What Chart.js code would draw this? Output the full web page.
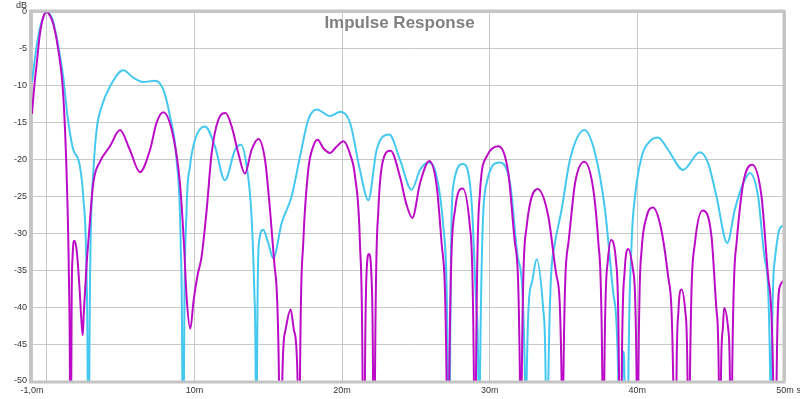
<!DOCTYPE html>
<html><head><meta charset="utf-8">
<script src="https://cdn.jsdelivr.net/npm/chart.js@4"></script>
<style>html,body{margin:0;padding:0;background:#fff;overflow:hidden}canvas{display:block}</style>
</head><body>
<canvas id="c" width="800" height="399"></canvas>
<script>
const chartTitle = 'Impulse Response';
const xTickValues = [-1, 0, 10, 20, 30, 40, 50];
const xTickLabels = ['-1,0m', '', '10m', '20m', '30m', '40m', '50m'];
const xUnit = 's';
const yUnit = 'dB';

const magentaMs = [-1,-0.85,-0.68,-0.46,-0.22,0,0.22,0.44,0.78,1.12,1.35,1.5,1.57,1.62,1.66,1.69,1.75,1.86,2.02,2.2,2.36,2.43,2.52,2.7,2.81,3.15,3.6,4.28,4.96,5.63,6.31,6.99,7.44,7.89,8.57,9.02,9.29,9.47,9.72,9.95,10.2,10.49,10.83,11.17,11.62,12.11,12.52,12.97,13.42,13.87,14.33,14.78,15.12,15.41,15.73,15.84,15.95,16.15,16.52,16.76,16.99,17.07,17.15,17.37,17.71,18.05,18.34,18.75,19.18,19.6,20.1,20.55,20.88,21.21,21.39,21.47,21.55,21.65,21.82,21.99,22.1,22.17,22.23,22.46,22.79,23.29,23.92,24.35,24.76,25.28,25.91,26.41,26.74,27.08,27.17,27.26,27.65,28.17,28.66,28.93,29.0,29.07,29.34,29.79,30.58,31.26,31.71,32.05,32.11,32.17,32.5,33.25,33.97,34.54,34.87,34.93,34.99,35.33,35.78,36.41,37.02,37.36,37.63,37.7,37.76,37.99,38.22,38.56,38.76,38.85,38.94,39.14,39.39,39.72,39.95,40.01,40.07,40.29,40.63,41.05,41.6,42.09,42.43,42.54,42.65,42.78,42.99,43.25,43.4,43.48,43.56,43.9,44.42,45.02,45.36,45.52,45.59,45.66,45.78,45.88,46.16,46.27,46.35,46.42,46.72,47.17,47.78,48.41,48.86,49.2,49.32,49.43,49.65,50];
const magentaDb = [-13.8,-10.2,-7.0,-2.9,-0.6,0,-0.5,-1.6,-5.1,-11.4,-22.3,-35.9,-50,-90,-50,-38.1,-33.1,-31.0,-32.2,-36.8,-42.2,-43.8,-40.4,-34.1,-31.3,-23.2,-20.3,-18.2,-16.0,-18.7,-21.7,-18.7,-15.0,-13.6,-16.9,-23.2,-31.3,-38.6,-42.9,-39.0,-35.8,-33.1,-26.8,-19.1,-14.6,-13.7,-15.5,-19.1,-21.9,-18.7,-17.2,-20.0,-26.8,-34.0,-50,-90,-50,-43.3,-40.3,-43.3,-50,-90,-50,-31.3,-21.4,-18.2,-17.3,-18.5,-19.1,-18.3,-17.5,-19.3,-22.3,-31.3,-50,-90,-50,-35.8,-32.8,-35.8,-50,-90,-50,-26.8,-20.0,-18.8,-22.3,-26.0,-27.9,-23.2,-20.2,-23.6,-31.3,-50,-90,-50,-26.8,-23.9,-29.1,-50,-90,-50,-24.5,-19.6,-18.2,-21.8,-31.3,-50,-90,-50,-29.1,-24.0,-27.7,-35.9,-50,-90,-50,-31.3,-23.2,-20.3,-24.1,-31.3,-50,-90,-50,-33.9,-30.9,-33.9,-50,-90,-50,-35.1,-32.1,-35.1,-50,-90,-50,-32.2,-27.7,-26.5,-29.3,-35.9,-50,-90,-50,-40.6,-37.6,-40.6,-50,-90,-50,-31.3,-26.9,-30.4,-40.4,-50,-90,-50,-43.1,-40.1,-43.1,-50,-90,-50,-31.3,-23.2,-20.7,-25.0,-35.9,-50,-90,-50,-37.2,-36.4];

const cyanMs = [-1,-0.7,-0.4,0,0.4,0.75,1.12,1.35,1.57,1.8,2.2,2.47,2.7,2.77,2.82,2.88,2.97,3.15,3.38,3.72,4.28,5.18,5.86,6.54,7.33,7.89,8.34,8.79,9.07,9.18,9.23,9.29,9.47,9.7,10.04,10.71,11.39,12.07,12.75,13.15,13.54,13.87,14.06,14.15,14.2,14.24,14.37,14.66,15.0,15.34,15.91,16.58,17.15,17.71,18.28,19.18,19.9,20.54,21.21,21.78,22.34,23.2,23.92,24.71,25.28,25.84,26.41,26.86,27.17,27.24,27.31,27.53,28.21,28.78,29.11,29.23,29.28,29.34,29.79,30.65,31.38,31.94,32.39,32.45,32.5,32.84,33.18,33.63,33.79,33.88,33.97,34.42,34.87,35.44,36.41,37.13,37.81,38.37,38.71,38.85,38.97,39.05,39.13,39.26,39.39,39.61,39.84,40.29,40.85,41.4,42.09,43.1,44.23,44.8,45.36,46.09,46.6,47.17,47.62,48.18,48.64,49.0,49.05,49.09,49.31,49.65,50];
const cyanDb = [-9.5,-4.8,-1.7,0,-1.1,-4.3,-8.9,-13.2,-16.4,-18.7,-20.5,-25.0,-35.9,-50,-90,-50,-31.3,-21.8,-15.9,-12.8,-10.1,-7.9,-8.9,-9.5,-9.3,-10.5,-14.1,-20.0,-31.3,-50,-90,-50,-26.8,-20.9,-17.3,-15.5,-18.2,-22.8,-18.7,-18.0,-20.9,-27.7,-38.1,-50,-90,-50,-31.3,-29.5,-31.3,-33.4,-28.6,-25.0,-19.6,-14.6,-13.2,-14.1,-13.5,-15.0,-21.4,-25.5,-18.7,-16.6,-20.0,-24.1,-21.4,-20.4,-22.3,-29.1,-50,-90,-50,-23.6,-20.6,-25.9,-40.4,-50,-90,-50,-23.2,-20.4,-23.2,-33.6,-50,-90,-50,-36.8,-33.5,-40.4,-50,-90,-50,-31.3,-26.8,-20.0,-16.0,-19.1,-26.8,-38.1,-50,-90,-50,-46.0,-50,-90,-50,-31.3,-25.0,-19.6,-17.5,-17.0,-18.7,-21.4,-19.0,-20.5,-25.0,-31.3,-26.8,-23.2,-21.8,-25.0,-33.6,-50,-90,-50,-33.6,-29.3,-28.9];

function toPoints(xs, ys) { return xs.map((x, i) => ({ x: x, y: ys[i] })); }

const FONT = '"Liberation Sans", Arial, sans-serif';

const decor = {
  id: 'decor',
  afterDatasetsDraw(chart) {
    const ctx = chart.ctx, a = chart.chartArea;
    ctx.save();
    ctx.strokeStyle = '#c4c4c4';
    ctx.lineWidth = 3;
    ctx.strokeRect(a.left - 1.5, a.top - 1, a.right - a.left + 0.5, a.bottom - a.top + 2);
    ctx.fillStyle = '#808080';
    ctx.font = 'bold 17px ' + FONT;
    ctx.textAlign = 'center';
    ctx.textBaseline = 'alphabetic';
    ctx.fillText(chartTitle, 399.5, 28.3);
    ctx.fillStyle = '#333';
    ctx.font = '9px ' + FONT;
    ctx.textAlign = 'right';
    ctx.fillText(yUnit, 27, 8);
    ctx.textAlign = 'left';
    ctx.textBaseline = 'middle';
    ctx.fillText(xUnit, 796.5, 390.4);
    ctx.restore();
  }
};

new Chart(document.getElementById('c'), {
  type: 'line',
  data: {
    datasets: [
      { label: 'B', data: toPoints(magentaMs, magentaDb), borderColor: '#bb0bc6', borderWidth: 2, pointRadius: 0, fill: false, cubicInterpolationMode: 'monotone' },
      { label: 'A', data: toPoints(cyanMs, cyanDb), borderColor: '#45c8f0', borderWidth: 2, pointRadius: 0, fill: false, cubicInterpolationMode: 'monotone' }
    ]
  },
  options: {
    responsive: false,
    animation: false,
    devicePixelRatio: 1,
    layout: { padding: { top: 12, right: 15, left: 0, bottom: 0 } },
    elements: { line: { capBezierPoints: false } },
    plugins: { legend: { display: false }, tooltip: { enabled: false }, title: { display: false } },
    scales: {
      x: {
        type: 'linear', min: -1, max: 50,
        afterBuildTicks: s => { s.ticks = xTickValues.map(v => ({ value: v })); },
        afterFit: s => { s.height = 18; },
        grid: { color: '#c8c8c8', lineWidth: 1, drawTicks: false },
        border: { display: false },
        ticks: {
          autoSkip: false, maxRotation: 0, padding: 4, color: '#333',
          font: { family: FONT, size: 9 },
          callback: v => { const i = xTickValues.indexOf(v); return i >= 0 ? xTickLabels[i] : ''; }
        }
      },
      y: {
        type: 'linear', min: -50, max: 0,
        afterFit: s => { s.width = 32; },
        grid: { color: '#c8c8c8', lineWidth: 1, drawTicks: false },
        border: { display: false },
        ticks: { stepSize: 5, padding: 5, color: '#333', font: { family: FONT, size: 9 }, callback: v => String(v) }
      }
    }
  },
  plugins: [decor]
});
</script>
</body></html>
